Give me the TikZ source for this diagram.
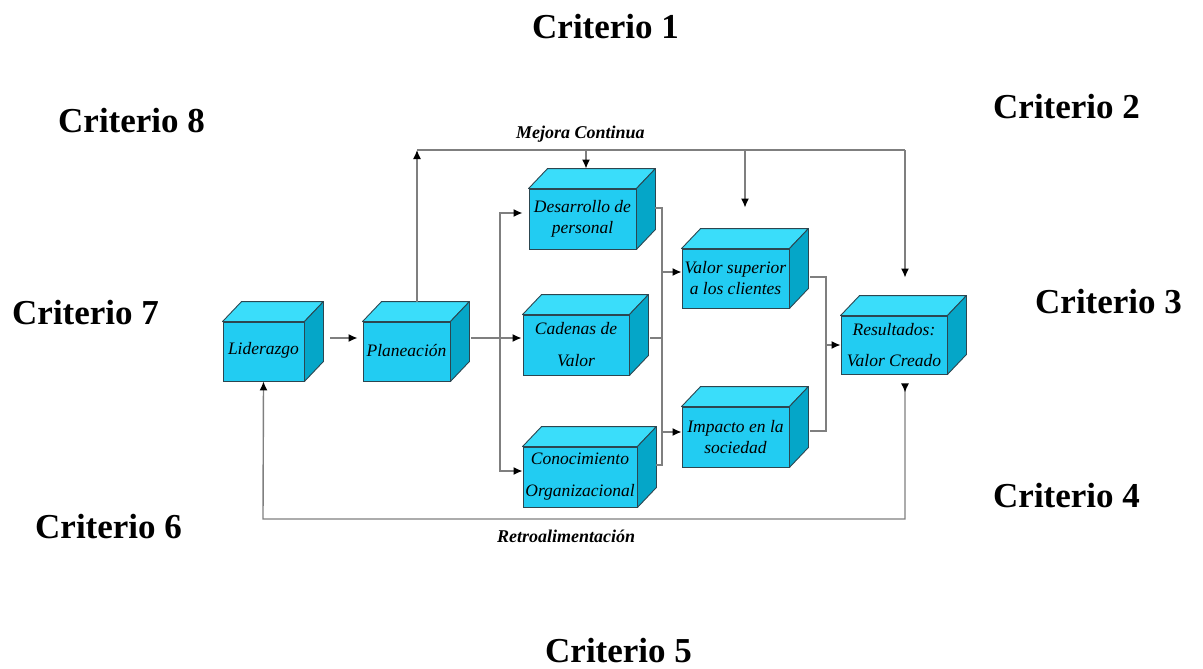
\documentclass[tikz,border=0pt]{standalone}
\usepackage{fontspec}
\setmainfont{Liberation Serif}
\usetikzlibrary{arrows.meta}

\definecolor{frontcyan}{HTML}{22CCF2}
\definecolor{topcyan}{HTML}{3ADDFA}
\definecolor{sidecyan}{HTML}{05A6C8}
\definecolor{edgegray}{HTML}{2C4650}
\definecolor{wiregray}{HTML}{7F7F7F}

\tikzset{
  box/.style={rectangle, draw=edgegray, line width=0.9pt, fill=frontcyan, minimum height=59pt,
    inner sep=0pt, align=center, font=\fontsize{17.5}{21}\selectfont\itshape},
  topface/.style={draw=edgegray, line width=0.9pt, fill=topcyan, line join=round},
  sideface/.style={draw=edgegray, line width=0.9pt, fill=sidecyan, line join=round},
  wire/.style={draw=wiregray, line width=1.4pt},
  arr/.style={wire, -{Latex[length=9pt,width=8pt,color=black]}},
  crit/.style={anchor=base west, inner sep=0pt, font=\fontsize{35}{42}\selectfont\bfseries},
  lbl/.style={anchor=base west, inner sep=0pt, font=\fontsize{18}{22}\selectfont\bfseries\itshape}
}

\begin{document}
\begin{tikzpicture}[x=1pt, y=-1pt]
  \useasboundingbox (0,0) rectangle (1203,669);
  % Nodes
  \node (lid) [box, minimum width=81pt] at (263.5, 351.5) {\raisebox{6pt}{Liderazgo}};
  \node (pla) [box, minimum width=87pt] at (406.5, 351.5) {\raisebox{3pt}{Planeación}};
  \node (des) [box, minimum width=107pt, minimum height=60pt] at (582.5, 219) {Desarrollo de\\personal};
  \node (cad) [box, minimum width=106pt, minimum height=60pt] at (576, 345) {Cadenas de\\[11pt]Valor};
  \node (con) [box, minimum width=114pt, minimum height=60pt] at (580, 477) {Conocimiento\\[11pt]Organizacional};
  \node (val) [box, minimum width=107pt] at (735.5, 278.5) {Valor superior\\a los clientes};
  \node (imp) [box, minimum width=107pt, minimum height=60pt] at (735.5, 437) {Impacto en la\\sociedad};
  \node (res) [box, minimum width=106pt, minimum height=58pt] at (894, 345) {Resultados:\\[10pt]Valor Creado};
  % 3D faces
  \foreach \n in {lid,pla,des,cad,con,val,imp,res} {
    \filldraw[topface] (\n.north west) -- ++(19,-20) -- ([shift={(19,-20)}]\n.north east) -- (\n.north east) -- cycle;
    \filldraw[sideface] (\n.north east) -- ([shift={(19,-20)}]\n.north east) -- ([shift={(19,-20)}]\n.south east) -- (\n.south east) -- cycle;
  }

  % Labels
  \node (c1) [crit] at (532, 39) {Criterio 1};
  \node (c2) [crit] at (993, 118) {Criterio 2};
  \node (c3) [crit] at (1035, 313) {Criterio 3};
  \node (c4) [crit] at (993, 507) {Criterio 4};
  \node (c5) [crit] at (545, 662) {Criterio 5};
  \node (c6) [crit] at (35, 538) {Criterio 6};
  \node (c7) [crit] at (12, 324) {Criterio 7};
  \node (c8) [crit] at (58, 132) {Criterio 8};
  \node (mej) [lbl] at (516, 139) {Mejora Continua};
  \node (ret) [lbl] at (497, 542) {Retroalimentación};

  % Coordinates
  \coordinate (mcl) at (417, 150);
  \coordinate (mcr) at (905, 150);
  \coordinate (mdes) at (586, 150);
  \coordinate (mval) at (745, 150);
  \coordinate (br) at (500, 338);
  \coordinate (ct) at (662, 208);
  \coordinate (cb) at (662, 465);
  \coordinate (vin) at (662, 272);
  \coordinate (iin) at (662, 432);
  \coordinate (rt) at (826, 277);
  \coordinate (rb) at (826, 431);
  \coordinate (rbr) at (905, 519);
  \coordinate (rbl) at (263, 519);

  % Arrows
  \draw[arr] ([xshift=26pt,yshift=13.5pt]lid.east) -- ([xshift=-5pt,yshift=13.5pt]pla.west);

  \draw[arr] ([xshift=10.5pt,yshift=20pt]pla.north) -- (mcl);
  \draw[wire] (mcl) -- (mcr);
  \draw[arr] (mcr) -- ([xshift=11pt,yshift=38pt]res.north);
  \draw[arr] (mdes) -- ([xshift=3.5pt,yshift=20pt]des.north);
  \draw[arr] (mval) -- ([xshift=9.5pt,yshift=41pt]val.north);

  \draw[wire] ([xshift=21pt,yshift=13.5pt]pla.east) -- (br);
  \draw[arr] (br) -- ([xshift=-1pt,yshift=7pt]cad.west);
  \draw[arr] (br) |- ([xshift=-6pt,yshift=6pt]des.west);
  \draw[arr] (br) |- ([yshift=6pt]con.west);

  \draw[wire] ([xshift=19pt,yshift=11pt]des.east) -- (ct) -- (cb) -- ([xshift=19pt,yshift=12pt]con.east);
  \draw[wire] ([xshift=21pt,yshift=7pt]cad.east) -- (ct |- br);
  \draw[arr] (vin) -- (vin -| val.west);
  \draw[arr] (iin) -- (iin -| imp.west);

  \draw[wire] ([xshift=21pt,yshift=1.5pt]val.east) -- (rt) -- (rb) -- ([xshift=21pt,yshift=6pt]imp.east);
  \draw[arr] (rt |- res.west) -- (res.west);

  \draw[wire, {Latex[reversed,length=9pt,width=8pt,color=black]}-{Latex[length=9pt,width=8pt,color=black]}]
    ([xshift=11pt,yshift=-9pt]res.south) -- (rbr) -- (rbl) -- (lid.south);
\end{tikzpicture}
\end{document}
